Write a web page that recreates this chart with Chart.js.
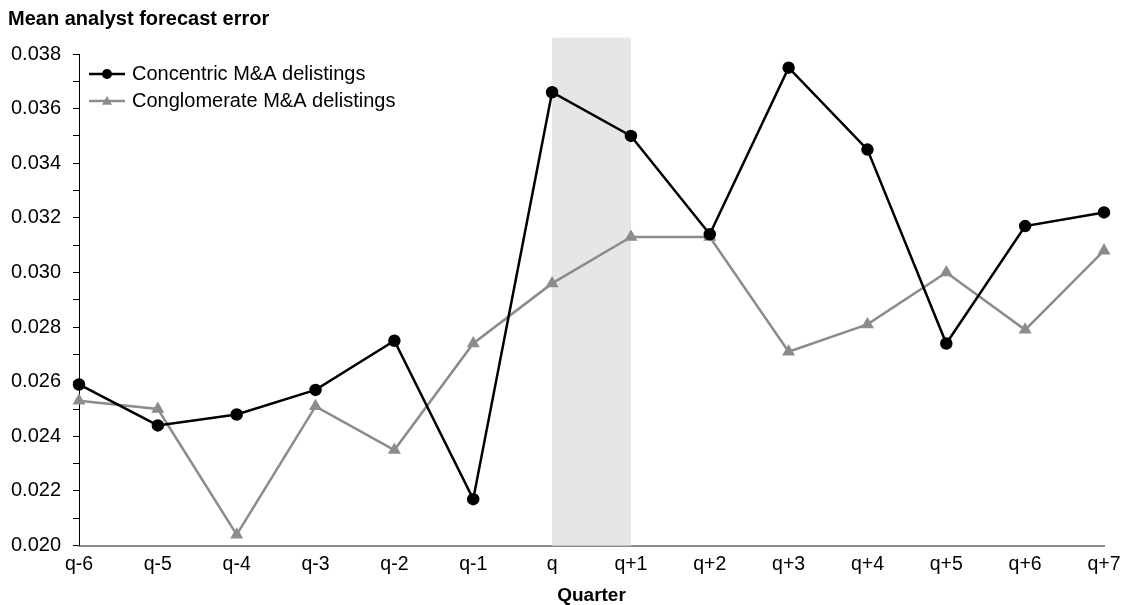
<!DOCTYPE html>
<html>
<head>
<meta charset="utf-8">
<script src="https://cdn.jsdelivr.net/npm/chart.js@4/dist/chart.umd.min.js"></script>
<style>
  body { margin: 0; background: #fff; }
  #wrap { width: 1123px; height: 605px; }
</style>
</head>
<body>
<div id="wrap"><canvas id="chart" width="1123" height="605"></canvas></div>
<script>
const quarters = ['q-6', 'q-5', 'q-4', 'q-3', 'q-2', 'q-1', 'q', 'q+1', 'q+2', 'q+3', 'q+4', 'q+5', 'q+6', 'q+7'];
const concentric = [0.0259, 0.0244, 0.0248, 0.0257, 0.0275, 0.0217, 0.0366, 0.0350, 0.0314, 0.0375, 0.0345, 0.0274, 0.0317, 0.0322];
const conglomerate = [0.0253, 0.0250, 0.0204, 0.0251, 0.0235, 0.0274, 0.0296, 0.0313, 0.0313, 0.0271, 0.0281, 0.0300, 0.0279, 0.0308];
const yMin = 0.020;
const yMax = 0.038;
const shadeFrom = 'q';
const shadeTo = 'q+1';
const shadeTop = 0.0386;

const FONT = '"Liberation Sans", Arial, sans-serif';

// grey band behind the lines for the event window
const shadePlugin = {
  id: 'shade',
  beforeDatasetsDraw(chart) {
    const { ctx, chartArea, scales } = chart;
    const x0 = scales.x.getPixelForValue(quarters.indexOf(shadeFrom));
    const x1 = scales.x.getPixelForValue(quarters.indexOf(shadeTo));
    const top = scales.y.getPixelForValue(shadeTop);
    ctx.save();
    ctx.fillStyle = '#e6e6e6';
    ctx.fillRect(x0, top, x1 - x0, chartArea.bottom - top);
    ctx.restore();
  }
};

// legend drawn inside the plot, line + marker like the original
const legendPlugin = {
  id: 'innerLegend',
  afterDraw(chart) {
    const { ctx, chartArea } = chart;
    chart.data.datasets.forEach((ds, i) => {
      const y = chartArea.top + 20 + i * 27;
      const x0 = chartArea.left + 10;
      const x1 = chartArea.left + 46;
      ctx.save();
      ctx.strokeStyle = ds.borderColor;
      ctx.lineWidth = ds.borderWidth;
      ctx.beginPath();
      ctx.moveTo(x0, y);
      ctx.lineTo(x1, y);
      ctx.stroke();
      ctx.fillStyle = ds.pointBackgroundColor;
      const cx = (x0 + x1) / 2;
      const r = ds.pointRadius;
      ctx.beginPath();
      if (ds.pointStyle === 'triangle') {
        ctx.moveTo(cx, y - r);
        ctx.lineTo(cx + r, y + r * 0.75);
        ctx.lineTo(cx - r, y + r * 0.75);
        ctx.closePath();
      } else {
        ctx.arc(cx, y, r, 0, Math.PI * 2);
      }
      ctx.fill();
      ctx.fillStyle = '#000';
      ctx.font = '20px ' + FONT;
      ctx.textBaseline = 'middle';
      ctx.fillText(ds.label, x1 + 7, y);
      ctx.restore();
    });
  }
};

new Chart(document.getElementById('chart'), {
  type: 'line',
  data: {
    labels: quarters,
    datasets: [
      {
        label: 'Concentric M&A delistings',
        data: concentric,
        borderColor: '#000',
        backgroundColor: '#000',
        pointBackgroundColor: '#000',
        pointBorderColor: '#000',
        borderWidth: 2.5,
        pointRadius: 5,
        pointStyle: 'circle',
        tension: 0
      },
      {
        label: 'Conglomerate M&A delistings',
        data: conglomerate,
        borderColor: '#8c8c8c',
        backgroundColor: '#8c8c8c',
        pointBackgroundColor: '#8c8c8c',
        pointBorderColor: '#8c8c8c',
        borderWidth: 2.5,
        pointRadius: 5,
        pointStyle: 'triangle',
        tension: 0
      }
    ]
  },
  options: {
    responsive: false,
    animation: false,
    layout: { padding: { left: 8, right: 19, top: 0, bottom: 0 } },
    plugins: {
      legend: { display: false },
      tooltip: { enabled: false },
      title: {
        display: true,
        text: 'Mean analyst forecast error',
        align: 'start',
        color: '#000',
        font: { family: FONT, size: 20, weight: 'bold', lineHeight: 1.1 },
        padding: { top: 8, bottom: 24 }
      }
    },
    scales: {
      x: {
        offset: false,
        afterFit(scale) { scale.paddingRight = 0; },
        grid: { drawOnChartArea: false, drawTicks: false },
        border: { display: true, color: '#8c8c8c', width: 2 },
        ticks: { color: '#000', font: { family: FONT, size: 19.5 }, padding: 7, maxRotation: 0, autoSkip: false },
        title: {
          display: true,
          text: 'Quarter',
          color: '#000',
          font: { family: FONT, size: 19, weight: 'bold', lineHeight: 1 },
          padding: { top: 3, bottom: 0 }
        }
      },
      y: {
        min: yMin,
        max: yMax,
        afterFit(scale) { scale.width = 71; },
        grid: { drawOnChartArea: false, drawTicks: true, tickLength: 6, color: '#000' },
        border: { display: true, color: '#000', width: 1 },
        ticks: {
          stepSize: 0.001,
          color: '#000',
          font: { family: FONT, size: 20 },
          padding: 12,
          callback: (v) => Math.round(v * 1000) % 2 === 0 ? v.toFixed(3) : ''
        }
      }
    }
  },
  plugins: [shadePlugin, legendPlugin]
});
</script>
</body>
</html>
